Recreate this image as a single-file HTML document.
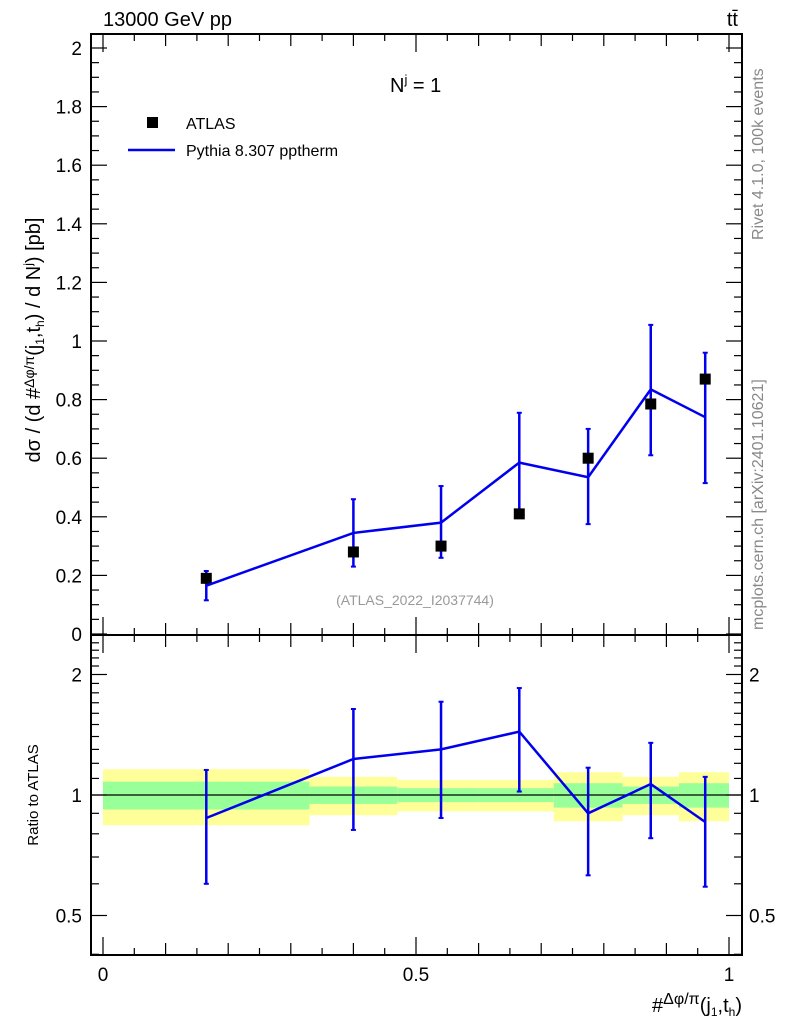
<!DOCTYPE html>
<html><head><meta charset="utf-8"><style>
body{margin:0;background:#fff}
svg{font-family:"Liberation Sans",sans-serif}
</style></head><body>
<svg id="c" width="786" height="1024" viewBox="0 0 786 1024" xmlns="http://www.w3.org/2000/svg">
<g id="bands"></g>
<g id="axes"></g>
<g id="marks"></g>
<text x="103" y="26" font-size="20">13000 GeV pp</text>
<text x="738" y="26" font-size="20" text-anchor="end">tt̄</text>
<text x="390" y="92" font-size="20">N<tspan dy="-8" font-size="13">j</tspan><tspan dy="8"> = 1</tspan></text>
<rect x="147" y="117" width="11" height="11" fill="#000"/>
<text x="186" y="129" font-size="16">ATLAS</text>
<line x1="128" y1="150" x2="175" y2="150" stroke="#0000ee" stroke-width="2.5"/>
<text x="186" y="156" font-size="16">Pythia 8.307 pptherm</text>
<text x="415" y="605" font-size="14" fill="#999" text-anchor="middle">(ATLAS_2022_I2037744)</text>
<text transform="translate(763,240) rotate(-90)" font-size="16" fill="#888">Rivet 4.1.0,  100k events</text>
<text transform="translate(763,630) rotate(-90)" font-size="16" fill="#888">mcplots.cern.ch [arXiv:2401.10621]</text>
<text transform="translate(40,340) rotate(-90)" font-size="20" text-anchor="middle">dσ / (d #<tspan font-size="14" dy="-6">Δφ/π</tspan><tspan dy="6">(j</tspan><tspan font-size="12" dy="4">1</tspan><tspan dy="-4">,t</tspan><tspan font-size="12" dy="4">h</tspan><tspan dy="-4">) / d N</tspan><tspan font-size="12" dy="-8">j</tspan><tspan dy="8">) [pb]</tspan></text>
<text transform="translate(38,795) rotate(-90)" font-size="15" text-anchor="middle">Ratio to ATLAS</text>
<text x="742" y="1012" font-size="20" text-anchor="end">#<tspan font-size="16" dy="-8">Δφ/π</tspan><tspan dy="8">(j</tspan><tspan font-size="12" dy="4">1</tspan><tspan dy="-4">,t</tspan><tspan font-size="12" dy="4">h</tspan><tspan dy="-4">)</tspan></text>
</svg>
<script>
const xPts=[0.165,0.4,0.54,0.665,0.775,0.875,0.962];
const binEdges=[0,0.33,0.47,0.6,0.72,0.83,0.92,1];
const atlasY=[0.19,0.28,0.30,0.41,0.60,0.785,0.87];
const mcY=[0.165,0.345,0.38,0.585,0.535,0.835,0.74];
const mcUp=[0.215,0.46,0.505,0.755,0.70,1.055,0.96];
const mcDn=[0.115,0.23,0.26,0.405,0.375,0.61,0.515];
const ratio=[0.876,1.23,1.30,1.44,0.90,1.065,0.856];
const ratioUp=[1.155,1.64,1.71,1.85,1.17,1.35,1.11];
const ratioDn=[0.6,0.818,0.876,1.02,0.63,0.78,0.59];
const yelHi=[1.16,1.11,1.09,1.09,1.14,1.11,1.14];
const yelLo=[0.84,0.89,0.91,0.91,0.86,0.89,0.86];
const grnHi=[1.08,1.05,1.04,1.04,1.07,1.05,1.07];
const grnLo=[0.92,0.95,0.96,0.96,0.93,0.95,0.93];
const mainTicks=["0","0.2","0.4","0.6","0.8","1","1.2","1.4","1.6","1.8","2"];
const xTicks=["0","0.5","1"];
const rTicks=["0.5","1","2"];
const NS="http://www.w3.org/2000/svg";
const X=v=>103+626*v, Y=v=>634-293*v, R=v=>795-120.5*Math.log2(v);
function mk(p,t,a){const e=document.createElementNS(NS,t);for(const k in a)e.setAttribute(k,a[k]);document.getElementById(p).appendChild(e);return e;}
const L=91,Rt=742,T=34,M=635,B=955;
for(let i=0;i<7;i++){
 let e=mk('bands','rect',{x:X(binEdges[i]),y:R(yelHi[i]),width:X(binEdges[i+1])-X(binEdges[i]),height:R(yelLo[i])-R(yelHi[i]),fill:'#ffff99'});
 
 e=mk('bands','rect',{x:X(binEdges[i]),y:R(grnHi[i]),width:X(binEdges[i+1])-X(binEdges[i]),height:R(grnLo[i])-R(grnHi[i]),fill:'#99ff99'});
 
}
let e=mk('axes','line',{x1:L,x2:Rt,y1:R(1),y2:R(1),stroke:'#000','stroke-width':1.2});

[[T,M],[M,B]].forEach(([a,b])=>{const f=mk('axes','rect',{x:L,y:a,width:Rt-L,height:b-a,fill:'none',stroke:'#000','stroke-width':2});
});
for(let k=0;k<=40;k++){const v=k*0.05,y=Y(v);if(y<T)continue;const len=k%4==0?16:8;
 mk('axes','line',{x1:L,x2:L+len,y1:y,y2:y,stroke:'#000','stroke-width':1.2});
 mk('axes','line',{x1:Rt,x2:Rt-len,y1:y,y2:y,stroke:'#000','stroke-width':1.2});}
mainTicks.forEach(t=>{const tx=mk('axes','text',{x:82,y:Y(+t)+7,'font-size':19,'text-anchor':'end'});tx.textContent=t;
 });
for(let k=0;k<=20;k++){const x=X(k*0.05);const len=k%10==0?18:(k%2==0?12:7);
 [[M,-1],[B,-1],[T,1],[M,1]].forEach(([y0,d])=>mk('axes','line',{x1:x,x2:x,y1:y0,y2:y0+d*len,stroke:'#000','stroke-width':1.2}));}
xTicks.forEach(t=>{const tx=mk('axes','text',{x:X(+t),y:981,'font-size':19,'text-anchor':'middle'});tx.textContent=t;
 });
const rMinor=[0.4,0.5,0.6,0.7,0.8,0.9,1,1.1,1.2,1.3,1.4,1.5,1.6,1.7,1.8,1.9,2,2.1,2.2,2.3,2.4];
rMinor.forEach(v=>{const y=R(v);if(y<M||y>B)return;const len=[0.5,1,2].includes(v)?16:8;
 mk('axes','line',{x1:L,x2:L+len,y1:y,y2:y,stroke:'#000','stroke-width':1.2});
 mk('axes','line',{x1:Rt,x2:Rt-len,y1:y,y2:y,stroke:'#000','stroke-width':1.2});});
rTicks.forEach(t=>{let tx=mk('axes','text',{x:82,y:R(+t)+7,'font-size':19,'text-anchor':'end'});tx.textContent=t;
 
 tx=mk('axes','text',{x:749,y:R(+t)+7,'font-size':19});tx.textContent=t;
 });
for(let i=0;i<7;i++){
 const x=X(xPts[i]);
 let b=mk('marks','line',{x1:x,x2:x,y1:Y(mcUp[i]),y2:Y(mcDn[i]),stroke:'#0000ee','stroke-width':2.5});
 
 [mcUp[i],mcDn[i]].forEach(v=>mk('marks','line',{x1:x-2.5,x2:x+2.5,y1:Y(v),y2:Y(v),stroke:'#0000ee','stroke-width':2}));
 const r=mk('marks','rect',{x:x-5.5,y:Y(atlasY[i])-5.5,width:11,height:11,fill:'#000'});
 
 b=mk('marks','line',{x1:x,x2:x,y1:R(ratioUp[i]),y2:R(ratioDn[i]),stroke:'#0000ee','stroke-width':2.5});
 
 [ratioUp[i],ratioDn[i]].forEach(v=>mk('marks','line',{x1:x-2.5,x2:x+2.5,y1:R(v),y2:R(v),stroke:'#0000ee','stroke-width':2}));
}
let p=mk('marks','polyline',{points:xPts.map((v,i)=>X(v)+','+Y(mcY[i])).join(' '),fill:'none',stroke:'#0000ee','stroke-width':2.5});

p=mk('marks','polyline',{points:xPts.map((v,i)=>X(v)+','+R(ratio[i])).join(' '),fill:'none',stroke:'#0000ee','stroke-width':2.5});

</script>
</body></html>
